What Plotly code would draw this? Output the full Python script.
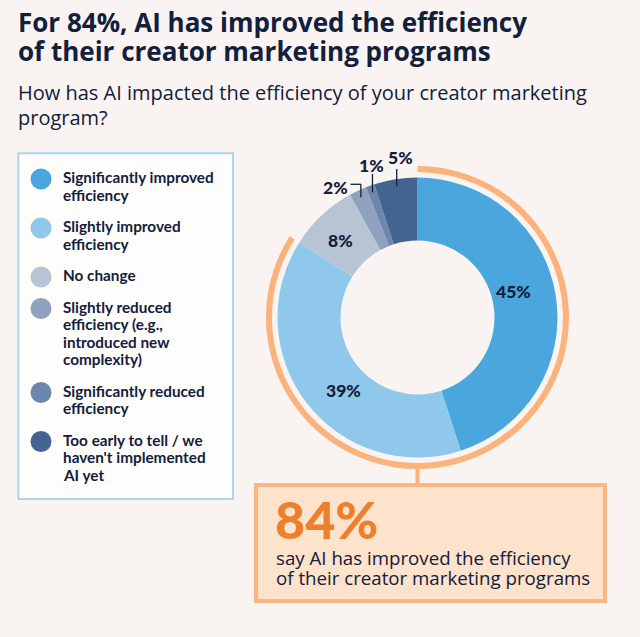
import math
import plotly.graph_objects as go

# ---------------- data ----------------
categories = [
    "Significantly improved<br>efficiency",
    "Slightly improved<br>efficiency",
    "No change",
    "Slightly reduced<br>efficiency (e.g.,<br>introduced new<br>complexity)",
    "Significantly reduced<br>efficiency",
    "Too early to tell / we<br>haven't implemented<br>AI yet",
]
values = [45, 39, 8, 2, 1, 5]
improved_idx = [0, 1]

title_lines = ["For 84%, AI has improved the efficiency",
               "of their creator marketing programs"]
subtitle_lines = ["How has AI impacted the efficiency of your creator marketing",
                  "program?"]
callout_lines = ["say AI has improved the efficiency",
                 "of their creator marketing programs"]

# ---------------- style ----------------
W, H = 640, 637
BG = "#f9f4f1"
NAVY = "#12203b"
ORANGE_RING = "#fbb37b"
ORANGE_TXT = "#ee7f2d"
BOX_FILL = "#fde2cc"
BOX_LINE = "#f9b680"
LEG_LINE = "#a9d5f1"
colors = ["#4aa7dd", "#90c8ec", "#b7c4d4", "#8fa1be", "#6c86ac", "#45638f"]

CX, CY, R, R_IN = 417.5, 317.5, 140, 77
RING_OUT, RING_IN = 151.5, 145.5


def px(x):
    return x / W


def py(y):
    return 1 - y / H


total = sum(values)
improved = sum(values[i] for i in improved_idx)

fig = go.Figure()

# main donut
fig.add_trace(go.Pie(
    values=values, labels=[c.replace("<br>", " ") for c in categories],
    marker=dict(colors=colors, line=dict(width=0)),
    hole=R_IN / R, sort=False, direction="clockwise", rotation=0,
    textinfo="none", hoverinfo="label+percent", showlegend=False,
    domain=dict(x=[px(CX - R), px(CX + R)], y=[py(CY + R), py(CY - R)]),
))

# orange ring for the improved share
fig.add_trace(go.Pie(
    values=[improved, total - improved], labels=["Improved", "Other"],
    marker=dict(colors=[ORANGE_RING, "rgba(0,0,0,0)"], line=dict(width=0)),
    hole=RING_IN / RING_OUT, sort=False, direction="clockwise", rotation=0,
    textinfo="none", hoverinfo="skip", showlegend=False,
    domain=dict(x=[px(CX - RING_OUT), px(CX + RING_OUT)],
                y=[py(CY + RING_OUT), py(CY - RING_OUT)]),
))

annotations = []
shapes = []

# titles
for i, t in enumerate(title_lines):
    annotations.append(dict(x=px(16), y=py(22.5 + 28.5 * i), text=t, showarrow=False,
                            xanchor="left", yanchor="middle",
                            font=dict(family="Open Sans", size=26, color=NAVY, weight=700)))
for i, t in enumerate(subtitle_lines):
    annotations.append(dict(x=px(16), y=py(92.5 + 25 * i), text=t, showarrow=False,
                            xanchor="left", yanchor="middle",
                            font=dict(family="Open Sans", size=20, color=NAVY)))

# legend box
shapes.append(dict(type="rect", xref="paper", yref="paper",
                   x0=px(18.3), x1=px(233), y0=py(153.3), y1=py(499),
                   line=dict(color=LEG_LINE, width=2), fillcolor="#fefdfc", layer="below"))
ly = 177
LINE_H = 17.5
for cat, col in zip(categories, colors):
    lines = cat.split("<br>")
    cy = ly + 2
    shapes.append(dict(type="circle", xref="paper", yref="paper",
                       x0=px(41 - 10.5), x1=px(41 + 10.5), y0=py(cy + 10.5), y1=py(cy - 10.5),
                       fillcolor=col, line=dict(width=0)))
    for j, ln in enumerate(lines):
        annotations.append(dict(x=px(61), y=py(ly + LINE_H * j), text=ln, showarrow=False,
                                xanchor="left", yanchor="middle",
                                font=dict(family="Lato", size=15.3, color=NAVY, weight=700)))
    ly += len(lines) * LINE_H + 14

# donut labels
inside_adj = {0: (-6, 99), 1: (-6.6, 104), 2: (-2, 109)}
outside_adj = {3: dict(top=184.3, lab=(335, 187.5), elbow=350.5),
               4: dict(top=174, lab=(371, 165.5), elbow=None),
               5: dict(top=169, lab=(400, 158), elbow=None)}
cum = 0
for i, v in enumerate(values):
    mid = (cum + v / 2) / total * 360
    cum += v
    txt = f"{v}%"
    lab_font = dict(family="Lato", size=17.5, color=NAVY, weight=900)
    if i in inside_adj:
        da, rr = inside_adj[i]
        a = math.radians(mid + da)
        x, y = CX + rr * math.sin(a), CY - rr * math.cos(a)
        annotations.append(dict(x=px(x), y=py(y), text=txt, showarrow=False,
                                xanchor="center", yanchor="middle", font=lab_font))
    else:
        o = outside_adj[i]
        a = math.radians(mid)
        x0, y0 = CX + 133 * math.sin(a), CY - 133 * math.cos(a)
        shapes.append(dict(type="line", xref="paper", yref="paper",
                           x0=px(x0), x1=px(x0), y0=py(y0), y1=py(o["top"]),
                           line=dict(color=NAVY, width=1.3)))
        if o["elbow"] is not None:
            shapes.append(dict(type="line", xref="paper", yref="paper",
                               x0=px(x0), x1=px(o["elbow"]), y0=py(o["top"]), y1=py(o["top"]),
                               line=dict(color=NAVY, width=1.3)))
        annotations.append(dict(x=px(o["lab"][0]), y=py(o["lab"][1]), text=txt, showarrow=False,
                                xanchor="center", yanchor="middle", font=lab_font))

# connector + callout box
shapes.append(dict(type="line", xref="paper", yref="paper",
                   x0=px(CX), x1=px(CX), y0=py(CY + RING_OUT - 2), y1=py(485),
                   line=dict(color=ORANGE_RING, width=4)))
shapes.append(dict(type="rect", xref="paper", yref="paper",
                   x0=px(256), x1=px(605), y0=py(485), y1=py(601),
                   line=dict(color=BOX_LINE, width=4), fillcolor=BOX_FILL))
annotations.append(dict(x=px(273), y=py(519), text=f"{improved}%", showarrow=False,
                        xanchor="left", yanchor="middle",
                        font=dict(family="Lato", size=52, color=ORANGE_TXT, weight=900)))
for j, ln in enumerate(callout_lines):
    annotations.append(dict(x=px(274), y=py(557 + 20.5 * j), text=ln, showarrow=False,
                            xanchor="left", yanchor="middle",
                            font=dict(family="Open Sans", size=18.7, color=NAVY)))

fig.update_layout(
    width=W, height=H, margin=dict(l=0, r=0, t=0, b=0),
    paper_bgcolor=BG, plot_bgcolor=BG,
    annotations=annotations, shapes=shapes, showlegend=False,
)
fig.write_html("out.html")
